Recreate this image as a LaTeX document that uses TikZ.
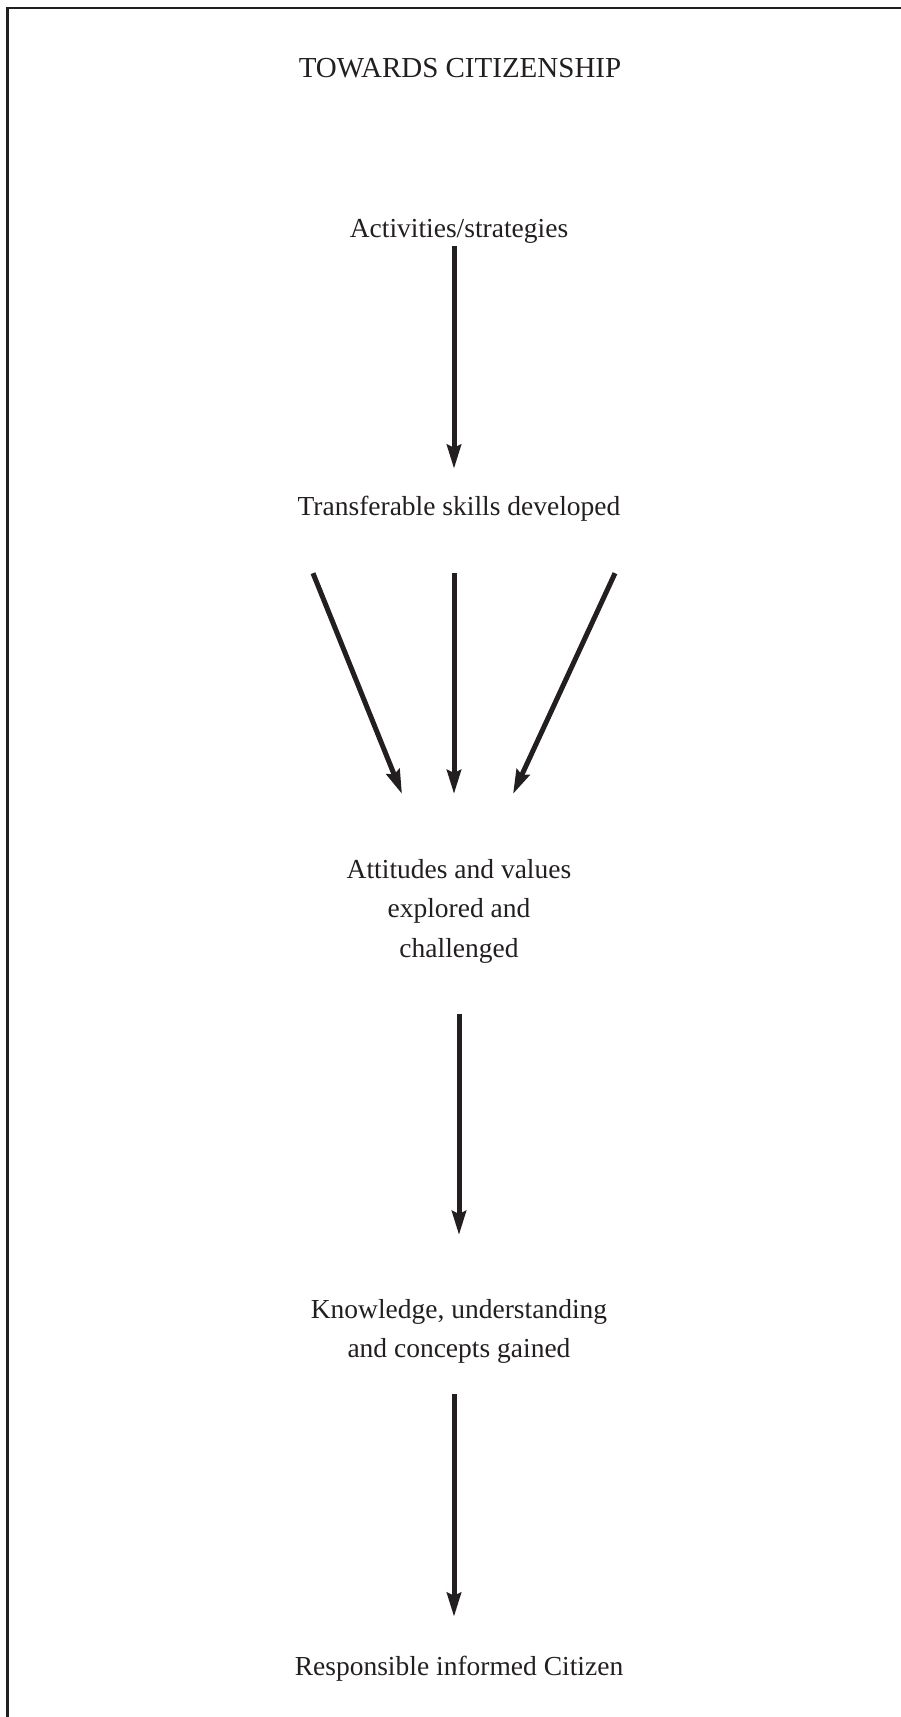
\documentclass[tikz,border=0pt]{standalone}
\usepackage{fontspec}
\setmainfont{Liberation Serif}
\usetikzlibrary{arrows.meta}
\definecolor{ink}{RGB}{35,31,32}
\tikzset{
  stage/.style={inner sep=0pt, align=center, text=ink, font=\fontsize{27.5}{39.5}\selectfont},
  stageline/.style={stage, text height=19pt, text depth=6pt},
  flowarrow/.style={draw=ink, line width=5pt, -{Stealth[length=24pt,width=14pt,inset=3pt]}}
}
\begin{document}
\begin{tikzpicture}[x=1pt,y=-1pt]
  \useasboundingbox (0,0) rectangle (901,1717);
  \draw[ink, line width=2.5pt] (7.5,1717) -- (7.5,8) -- (901,8);

  \node[stageline, font=\fontsize{29}{39.5}\selectfont] (title) at (460,71) {TOWARDS CITIZENSHIP};
  \node[stageline] (act) at (459,230.5) {Activities/strategies};
  \node[stageline] (skills) at (459,508.5) {Transferable skills developed};
  \node[stage, anchor=north] (att) at (459,859) {Attitudes and values\\explored and\\challenged};
  \node[stage, anchor=north] (know) at (459,1299) {Knowledge, understanding\\and concepts gained};
  \node[stageline] (cit) at (459,1668.5) {Responsible informed Citizen};

  \draw[flowarrow] ([xshift=-5pt,yshift=-3pt]act.south) -- ([xshift=-5pt,yshift=27pt]skills.north);

  \foreach \from/\to in {-146/-57, -5/-5, 156/54}{
    \draw[flowarrow] ([xshift=\from pt,yshift=-52pt]skills.south) -- ([xshift=\to pt,yshift=65pt]att.north);
  }

  \draw[flowarrow] ([yshift=-51pt]att.south) -- ([yshift=64pt]know.north);
  \draw[flowarrow] ([xshift=-5pt,yshift=-30pt]know.south) -- ([xshift=-5pt,yshift=39pt]cit.north);
\end{tikzpicture}
\end{document}
